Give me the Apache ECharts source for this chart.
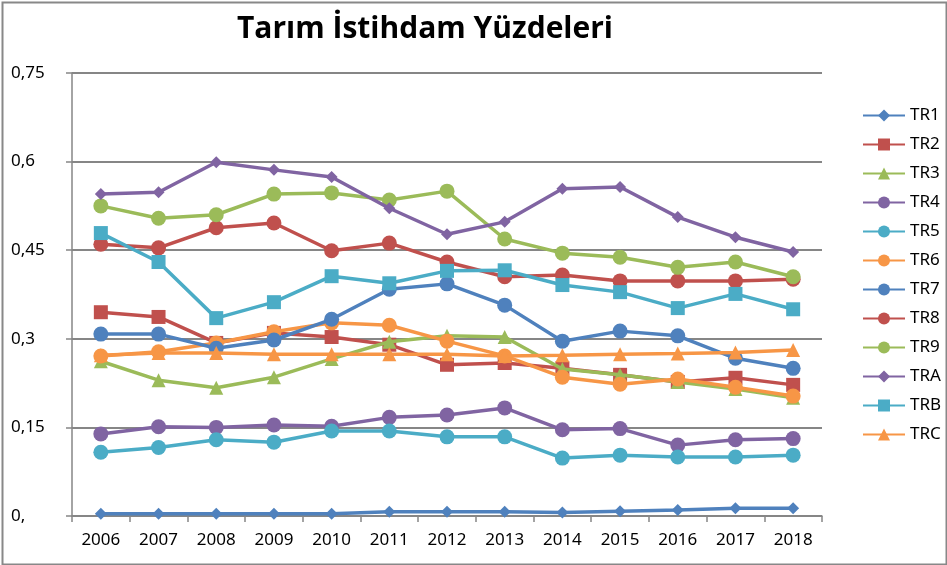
<!DOCTYPE html>
<html>
<head>
<meta charset="utf-8">
<script src="https://cdn.jsdelivr.net/npm/echarts@6/dist/echarts.min.js"></script>
<style>
  html, body { margin: 0; padding: 0; background: #fff; }
  #main { width: 947px; height: 565px; }
</style>
</head>
<body>
<div id="main"></div>
<script>
var years = ['2006', '2007', '2008', '2009', '2010', '2011', '2012', '2013', '2014', '2015', '2016', '2017', '2018'];
var yTickLabels = ['0,', '0,15', '0,3', '0,45', '0,6', '0,75'];

var tr1 = [0.004, 0.004, 0.004, 0.004, 0.004, 0.007, 0.007, 0.007, 0.006, 0.008, 0.010, 0.013, 0.013];
var tr2 = [0.345, 0.337, 0.293, 0.310, 0.303, 0.290, 0.256, 0.259, 0.250, 0.239, 0.227, 0.234, 0.222];
var tr3 = [0.262, 0.230, 0.217, 0.235, 0.266, 0.295, 0.305, 0.303, 0.249, 0.239, 0.227, 0.215, 0.200];
var tr4 = [0.139, 0.151, 0.150, 0.154, 0.152, 0.167, 0.171, 0.183, 0.146, 0.148, 0.120, 0.129, 0.131];
var tr5 = [0.108, 0.116, 0.129, 0.125, 0.144, 0.144, 0.134, 0.134, 0.098, 0.103, 0.100, 0.100, 0.103];
var tr6 = [0.271, 0.278, 0.293, 0.312, 0.327, 0.323, 0.296, 0.271, 0.235, 0.223, 0.232, 0.218, 0.203];
var tr7 = [0.308, 0.308, 0.284, 0.298, 0.333, 0.384, 0.393, 0.357, 0.296, 0.313, 0.305, 0.267, 0.250];
var tr8 = [0.460, 0.454, 0.488, 0.496, 0.449, 0.462, 0.430, 0.405, 0.408, 0.398, 0.398, 0.398, 0.401];
var tr9 = [0.525, 0.504, 0.510, 0.545, 0.547, 0.535, 0.550, 0.469, 0.445, 0.438, 0.421, 0.430, 0.405];
var trA = [0.545, 0.548, 0.599, 0.586, 0.574, 0.521, 0.477, 0.498, 0.554, 0.557, 0.506, 0.472, 0.447];
var trB = [0.479, 0.430, 0.335, 0.362, 0.406, 0.394, 0.415, 0.416, 0.391, 0.379, 0.352, 0.376, 0.350];
var trC = [0.272, 0.276, 0.276, 0.274, 0.274, 0.274, 0.274, 0.271, 0.272, 0.274, 0.275, 0.277, 0.281];

var seriesNames = ['TR1', 'TR2', 'TR3', 'TR4', 'TR5', 'TR6', 'TR7', 'TR8', 'TR9', 'TRA', 'TRB', 'TRC'];
var seriesData = [tr1, tr2, tr3, tr4, tr5, tr6, tr7, tr8, tr9, trA, trB, trC];
var colors = ['#4F81BD', '#C0504D', '#9BBB59', '#8064A2', '#4BACC6', '#F79646',
              '#4F81BD', '#C0504D', '#9BBB59', '#8064A2', '#4BACC6', '#F79646'];
var symbols = ['diamond', 'rect', 'triangle', 'circle', 'circle', 'circle',
               'circle', 'circle', 'circle', 'diamond', 'rect', 'triangle'];
var symbolSizes = [12, 14, 14, 15, 15, 15, 15, 15, 15, 12, 14, 14];

var myChart = echarts.init(document.getElementById('main'));

var series = seriesNames.map(function(name, i) {
    return {
        name: name,
        type: 'line',
        data: seriesData[i],
        symbol: symbols[i],
        symbolSize: symbolSizes[i],
        showAllSymbol: true,
        lineStyle: { width: 3.5, color: colors[i] },
        itemStyle: { color: colors[i] },
        z: 2 + i
    };
});

var option = {
    animation: false,
    textStyle: { fontFamily: 'Noto Sans' },
    title: {
        text: 'Tarım İstihdam Yüzdeleri',
        left: 420,
        top: 9,
        textAlign: 'center',
        textStyle: { fontFamily: 'Open Sans', fontWeight: 'bold', fontSize: 30, color: '#000' }
    },
    legend: {
        orient: 'vertical',
        left: 857,
        top: 102,
        itemWidth: 42,
        itemHeight: 15,
        itemGap: 12,
        textStyle: { fontSize: 17, color: '#000', padding: [0, 0, 0, 0] },
        data: seriesNames
    },
    grid: { left: 72, right: 125, top: 73, bottom: 49, containLabel: false },
    xAxis: {
        type: 'category',
        data: years,
        boundaryGap: true,
        axisLine: { lineStyle: { color: '#868686', width: 1.5 } },
        axisTick: { show: true, length: 6, lineStyle: { color: '#868686', width: 1.5 } },
        axisLabel: { color: '#000', fontSize: 17, margin: 16 }
    },
    yAxis: {
        type: 'value',
        min: 0,
        max: 0.75,
        interval: 0.15,
        axisLine: { show: true, lineStyle: { color: '#868686', width: 1.5 } },
        axisTick: { show: true, length: 6, lineStyle: { color: '#868686', width: 1.5 } },
        splitLine: { lineStyle: { color: '#868686', width: 2 } },
        axisLabel: {
            color: '#000',
            fontSize: 17,
            align: 'left',
            margin: 61,
            formatter: function(v) {
                return yTickLabels[Math.round(v / 0.15)];
            }
        }
    },
    graphic: [{
        type: 'rect',
        left: 0, top: 0,
        shape: { x: 1, y: 1, width: 944, height: 562 },
        style: { fill: 'none', stroke: '#888', lineWidth: 2 },
        silent: true
    }],
    series: series
};

myChart.setOption(option);
</script>
</body>
</html>
